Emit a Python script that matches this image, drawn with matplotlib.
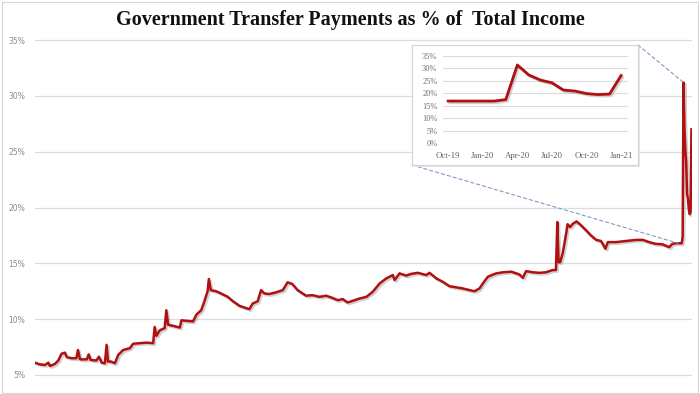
import matplotlib
matplotlib.use("Agg")
import matplotlib.pyplot as plt
import matplotlib.patheffects as pe
from matplotlib.patches import Rectangle, ConnectionPatch

# ---------------- data ----------------
hist_years = [
    1959.0, 1959.47, 1959.94, 1960.26, 1960.42, 1960.89, 1961.2, 1961.5, 1961.83, 1962.0,
    1962.46, 1962.9, 1963.06, 1963.25, 1963.9, 1964.07, 1964.25, 1964.8, 1965.04, 1965.3,
    1965.6, 1965.76, 1965.9, 1966.2, 1966.55, 1966.86, 1967.33, 1967.96, 1968.27, 1968.9,
    1969.54, 1970.16, 1970.3, 1970.47, 1970.78, 1971.25, 1971.4, 1971.57, 1972.04, 1972.68,
    1972.83, 1973.3, 1973.93, 1974.24, 1974.7, 1975.0, 1975.3, 1975.42, 1975.6, 1976.1,
    1976.57, 1977.2, 1977.7, 1978.3, 1978.9, 1979.25, 1979.56, 1980.03, 1980.35, 1980.66,
    1981.13, 1981.76, 1982.4, 1982.86, 1983.3, 1983.8, 1984.6, 1985.2, 1985.85, 1986.5,
    1987.1, 1987.6, 1988.06, 1988.5, 1988.72, 1989.66, 1990.3, 1990.9, 1991.55, 1992.18,
    1992.8, 1992.96, 1993.43, 1994.06, 1994.5, 1995.16, 1995.95, 1996.26, 1996.9, 1997.5,
    1998.15, 1998.8, 1999.4, 2000.04, 2000.5, 2000.98, 2001.3, 2001.77, 2002.55, 2003.2,
    2004.0, 2004.75, 2005.07, 2005.38, 2006.0, 2006.64, 2007.27, 2007.9, 2008.2, 2008.33,
    2008.45, 2008.6, 2008.84, 2009.16, 2009.3, 2009.54, 2009.8, 2010.16, 2010.57, 2011.05,
    2011.5, 2012.0, 2012.46, 2012.87, 2013.1, 2013.87, 2014.8, 2015.76, 2016.4, 2017.0,
    2017.6, 2018.27, 2018.9, 2019.2, 2019.6,
]
hist_values = [
    6.1, 5.95, 5.9, 6.1, 5.8, 6.0, 6.3, 6.9, 7.0, 6.6,
    6.5, 6.5, 7.24, 6.4, 6.4, 6.85, 6.35, 6.3, 6.64, 6.1,
    6.05, 7.7, 6.2, 6.2, 6.05, 6.8, 7.24, 7.4, 7.8, 7.85,
    7.9, 7.85, 9.3, 8.5, 9.0, 9.2, 10.8, 9.5, 9.4, 9.25,
    9.9, 9.85, 9.8, 10.4, 10.8, 11.6, 12.5, 13.6, 12.6, 12.5,
    12.3, 12.0, 11.6, 11.2, 11.0, 10.9, 11.4, 11.6, 12.6, 12.3,
    12.25, 12.4, 12.6, 13.3, 13.15, 12.6, 12.1, 12.15, 12.0, 12.1,
    11.9, 11.7, 11.8, 11.5, 11.55, 11.85, 12.0, 12.45, 13.2, 13.65,
    13.95, 13.5, 14.1, 13.9, 14.05, 14.15, 13.95, 14.15, 13.65, 13.35,
    12.95, 12.85, 12.75, 12.6, 12.5, 12.75, 13.2, 13.8, 14.1, 14.2,
    14.25, 14.0, 13.7, 14.3, 14.2, 14.15, 14.2, 14.4, 14.4, 18.7,
    15.1, 15.1, 15.9, 17.65, 18.5, 18.25, 18.55, 18.75, 18.4, 17.95,
    17.5, 17.1, 17.0, 16.3, 16.9, 16.9, 17.0, 17.1, 17.1, 16.9,
    16.75, 16.7, 16.45, 16.75, 16.8,
]

inset_labels = ["Oct-19", "Nov-19", "Dec-19", "Jan-20", "Feb-20", "Mar-20", "Apr-20", "May-20",
                "Jun-20", "Jul-20", "Aug-20", "Sep-20", "Oct-20", "Nov-20", "Dec-20", "Jan-21"]
inset_years = [2019.75 + i / 12 for i in range(len(inset_labels))]
inset_values = [16.8, 16.8, 16.8, 16.8, 16.8, 17.4, 31.2, 27.2,
                25.2, 24.1, 21.2, 20.8, 19.8, 19.4, 19.6, 27.0]

main_ticks = [5, 10, 15, 20, 25, 30, 35]
inset_ticks = [0, 5, 10, 15, 20, 25, 30, 35]
inset_xtick_idx = [0, 3, 6, 9, 12, 15]

title = "Government Transfer Payments as % of  Total Income"

# ---------------- figure ----------------
W, H = 700, 394
fig = plt.figure(figsize=(W / 100, H / 100), dpi=100)
fig.patch.set_facecolor("white")

def fx(px):
    return px / W

def fy(py):
    return 1 - py / H

RED = "#b0100f"
GRID = "#dcdcdc"
shadow = [pe.SimpleLineShadow(offset=(1.2, -1.2), shadow_color="#999999", alpha=0.45), pe.Normal()]

# main axes: 5% at y=375, 35% at y=40 -> pad 0.2%
pxper = 335 / 30
ax = fig.add_axes([fx(35), fy(375 + 0.2 * pxper), fx(657), 335 / H + 0.4 * pxper / H])
ax.set_ylim(4.8, 35.2)
ax.set_xlim(1959.0, 2021.05)
ax.set_yticks(main_ticks)
ax.set_yticklabels([f"{v}%" for v in main_ticks], fontsize=5.5, color="#8a8a8a")
ax.tick_params(axis="y", length=0, pad=7)
ax.set_xticks([])
for s in ax.spines.values():
    s.set_visible(False)
ax.grid(axis="y", color=GRID, lw=0.9)
ax.set_axisbelow(True)

years = hist_years + inset_years
vals = hist_values + inset_values
ax.plot(years, vals, color=RED, lw=1.8, solid_joinstyle="round", path_effects=shadow, zorder=3)

# title
fig.text(0.5, fy(20), title, ha="center", va="center", fontsize=14.5,
         family="Liberation Serif", weight="bold", color="#111111")

# dashed connectors
box_l, box_t, box_r, box_b = 412, 45, 638, 165
con_kw = dict(color="#7d9cc2", lw=0.8, ls=(0, (3, 2.5)), zorder=0.5)
c1 = ConnectionPatch(xyA=(fx(box_r), fy(box_t)), coordsA=fig.transFigure,
                     xyB=(inset_years[6], inset_values[6]), coordsB=ax.transData, **con_kw)
c2 = ConnectionPatch(xyA=(fx(box_l), fy(box_b)), coordsA=fig.transFigure,
                     xyB=(inset_years[0], inset_values[0]), coordsB=ax.transData, **con_kw)
fig.add_artist(c1)
fig.add_artist(c2)

# inset box (with soft shadow)
shadow_box = fig.add_axes([fx(box_l + 2), fy(box_b + 2), fx(box_r - box_l), (box_b - box_t) / H])
shadow_box.set_facecolor("#e6e6e6")
shadow_box.set_xticks([]); shadow_box.set_yticks([])
for s in shadow_box.spines.values():
    s.set_visible(False)
shadow_box.set_zorder(0.8)

box = fig.add_axes([fx(box_l), fy(box_b), fx(box_r - box_l), (box_b - box_t) / H])
box.set_facecolor("white")
box.set_xticks([]); box.set_yticks([])
for s in box.spines.values():
    s.set_color("#d4d4d4")
    s.set_linewidth(0.8)
box.set_zorder(1)

# inset axes: 0% at y=142.7, 35% at y=55.7 ; x from 443 to 628
ins = fig.add_axes([fx(443), fy(143.5), fx(628 - 443), (143.5 - 55) / H])
ins.set_zorder(2)
ins.patch.set_visible(False)
ins.set_ylim(-0.15, 35.2)
ins.set_xlim(-0.45, 15.6)
ins.set_yticks(inset_ticks)
ins.set_yticklabels([f"{v}%" for v in inset_ticks], fontsize=6, color="#707070",
                    family="Liberation Serif")
ins.set_xticks(inset_xtick_idx)
ins.set_xticklabels([inset_labels[i] for i in inset_xtick_idx], fontsize=6.3,
                    color="#606060", family="Liberation Serif")
ins.tick_params(length=0, pad=4)
ins.tick_params(axis="x", pad=6)
for s in ins.spines.values():
    s.set_visible(False)
ins.grid(axis="y", color=GRID, lw=0.8)
ins.set_axisbelow(True)
ins.plot(range(len(inset_values)), inset_values, color=RED, lw=2.0,
         solid_joinstyle="round", path_effects=shadow, zorder=3)

# light frame around the graphic
fig.add_artist(Rectangle((fx(1.5), fy(392.5)), fx(696), 391 / H, transform=fig.transFigure,
                         fill=False, edgecolor="#d6d6d6", lw=0.8, zorder=5))

fig.savefig("out.png", dpi=100, facecolor="white")
